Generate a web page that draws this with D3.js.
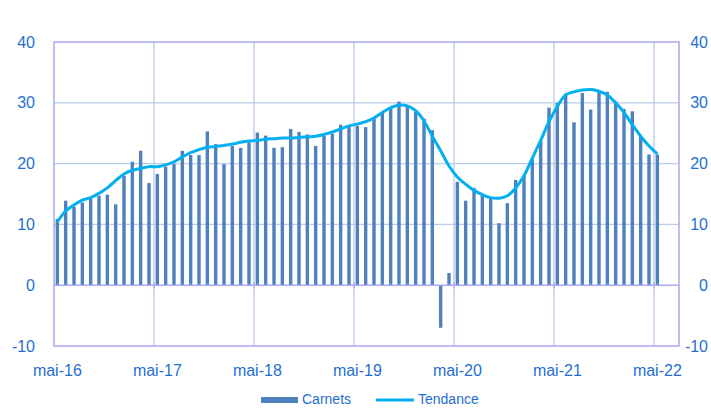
<!DOCTYPE html>
<html>
<head>
<meta charset="utf-8">
<script src="https://cdn.jsdelivr.net/npm/d3@7"></script>
<style>
  body { margin: 0; background: #fff; }
  svg { display: block; font-family: "Liberation Sans", Arial, sans-serif; }
</style>
</head>
<body>
<figure id="chart" style="margin:0"></figure>
<script>
// month names + first month of the axis
const moisNoms = ["jan", "fév", "mar", "avr", "mai", "jun", "jul", "aoû", "sep", "oct", "nov", "déc"];
const debutMois = 4;   // mai
const debutAn = 16;
const nbMois = 75;     // axis runs mai-16 .. jul-22, data stops at mai-22

// Carnets (bars), one value per month from mai-16
const carnets = [
  10.9, 13.9, 12.9, 13.6, 14.2, 14.7, 14.9, 13.3, 18.0, 20.3, 22.1, 16.8,
  18.3, 19.5, 19.9, 22.1, 21.4, 21.4, 25.3, 23.2, 19.9, 22.9, 22.6, 23.5,
  25.1, 24.6, 22.6, 22.7, 25.7, 25.2, 24.8, 22.9, 24.6, 24.9, 26.4, 26.3,
  26.2, 26.0, 27.4, 28.4, 29.3, 30.2, 29.3, 28.5, 27.4, 25.5, -7.0, 2.0,
  17.0, 13.9, 16.0, 15.0, 14.5, 10.2, 13.5, 17.3, 18.0, 20.7, 23.8, 29.2,
  30.0, 31.5, 26.8, 31.6, 28.9, 31.9, 31.8, 30.2, 29.0, 28.6, 24.6, 21.5,
  21.5
];

// Tendance (smoothed line)
const tendance = [
  10.4, 12.2, 13.2, 14.0, 14.4, 15.1, 16.0, 17.2, 18.3, 18.9, 19.2, 19.5,
  19.5, 19.8, 20.3, 21.1, 21.8, 22.3, 22.7, 22.8, 23.0, 23.2, 23.5, 23.7,
  23.8, 24.0, 24.1, 24.2, 24.2, 24.3, 24.4, 24.5, 24.8, 25.2, 25.7, 26.2,
  26.5, 26.9, 27.5, 28.4, 29.2, 29.6, 29.5, 28.7, 27.0, 24.5, 22.1, 19.6,
  17.8, 16.6, 15.6, 14.9, 14.4, 14.3, 14.7, 16.0, 18.0, 20.9, 23.8, 26.9,
  29.4, 31.3, 31.8, 32.1, 32.2, 31.9, 31.3, 30.0, 28.4, 26.4, 24.5, 22.9,
  21.6
];

const yTicks = [-10, 0, 10, 20, 30, 40];

const categories = d3.range(nbMois).map(i => {
  const m = (debutMois + i) % 12;
  const a = debutAn + Math.floor((debutMois + i) / 12);
  return moisNoms[m] + "-" + a;
});

const width = 711, height = 408;
const plot = { left: 54, right: 679, top: 42, bottom: 346 };

const textColor = "#1f6fd0";
const frameColor = "#a9a9f2";
const gridColor = "#b9cbe6";
const barColor = "#4f81bd";
const lineColor = "#00b0f0";

const svg = d3.select("#chart")
  .append("svg")
  .attr("width", width)
  .attr("height", height);

const x = d3.scaleBand()
  .domain(categories)
  .range([plot.left, plot.right])
  .paddingInner(0)
  .paddingOuter(0);

const y = d3.scaleLinear()
  .domain([-10, 40])
  .range([plot.bottom, plot.top]);

const bw = x.bandwidth();
const cx = c => x(c) + bw * 0.4;

// horizontal gridlines
svg.append("g")
  .selectAll("line")
  .data(yTicks.filter(t => t !== 0 && t !== -10 && t !== 40))
  .enter()
  .append("line")
  .attr("x1", plot.left).attr("x2", plot.right)
  .attr("y1", d => y(d)).attr("y2", d => y(d))
  .attr("stroke", gridColor)
  .attr("stroke-width", 1.3);

// vertical gridlines, one per year (between categories)
const yearStarts = categories.filter((c, i) => i % 12 === 0 && i > 0);
svg.append("g")
  .selectAll("line")
  .data(yearStarts)
  .enter()
  .append("line")
  .attr("x1", d => x(d)).attr("x2", d => x(d))
  .attr("y1", plot.top).attr("y2", plot.bottom)
  .attr("stroke", gridColor)
  .attr("stroke-width", 1.3);

// frame
svg.append("rect")
  .attr("x", plot.left).attr("y", plot.top)
  .attr("width", plot.right - plot.left)
  .attr("height", plot.bottom - plot.top)
  .attr("fill", "none")
  .attr("stroke", frameColor)
  .attr("stroke-width", 1.5);

// bars
const barData = carnets.map((v, i) => ({ c: categories[i], v: v }));
svg.append("g")
  .selectAll("rect")
  .data(barData)
  .enter()
  .append("rect")
  .attr("x", d => cx(d.c) - 1.7)
  .attr("width", 3.4)
  .attr("y", d => y(Math.max(0, d.v)))
  .attr("height", d => Math.abs(y(d.v) - y(0)))
  .attr("fill", barColor);

// x axis line at zero, with small year ticks
svg.append("line")
  .attr("x1", plot.left).attr("x2", plot.right)
  .attr("y1", y(0)).attr("y2", y(0))
  .attr("stroke", frameColor)
  .attr("stroke-width", 1.5);

svg.append("g")
  .selectAll("line")
  .data(yearStarts)
  .enter()
  .append("line")
  .attr("x1", d => x(d)).attr("x2", d => x(d))
  .attr("y1", y(0) - 3).attr("y2", y(0) + 3)
  .attr("stroke", frameColor)
  .attr("stroke-width", 1.3);

// trend line
const lineData = tendance.map((v, i) => ({ c: categories[i], v: v }));
svg.append("path")
  .datum(lineData)
  .attr("fill", "none")
  .attr("stroke", lineColor)
  .attr("stroke-width", 3)
  .attr("stroke-linejoin", "round")
  .attr("d", d3.line()
    .x(d => cx(d.c))
    .y(d => y(d.v))
    .curve(d3.curveCatmullRom.alpha(0.5)));

// y labels, left and right
svg.append("g")
  .selectAll("text")
  .data(yTicks)
  .enter()
  .append("text")
  .attr("x", 35)
  .attr("y", d => y(d))
  .attr("dy", "0.35em")
  .attr("text-anchor", "end")
  .attr("fill", textColor)
  .style("font-size", "16px")
  .text(d => d);

svg.append("g")
  .selectAll("text")
  .data(yTicks)
  .enter()
  .append("text")
  .attr("x", 708)
  .attr("y", d => y(d))
  .attr("dy", "0.35em")
  .attr("text-anchor", "end")
  .attr("fill", textColor)
  .style("font-size", "16px")
  .text(d => d);

// x labels every 12 months
svg.append("g")
  .selectAll("text")
  .data(categories.filter((c, i) => i % 12 === 0))
  .enter()
  .append("text")
  .attr("x", d => cx(d))
  .attr("y", 370)
  .attr("dy", "0.35em")
  .attr("text-anchor", "middle")
  .attr("fill", textColor)
  .style("font-size", "16px")
  .text(d => d);

// legend
const legend = svg.append("g");
legend.append("rect")
  .attr("x", 261).attr("y", 397)
  .attr("width", 37).attr("height", 6)
  .attr("fill", barColor);
legend.append("text")
  .attr("x", 302).attr("y", 400)
  .attr("dy", "0.32em")
  .attr("fill", textColor)
  .style("font-size", "14px")
  .text("Carnets");
legend.append("line")
  .attr("x1", 376).attr("x2", 414)
  .attr("y1", 400).attr("y2", 400)
  .attr("stroke", lineColor)
  .attr("stroke-width", 3);
legend.append("text")
  .attr("x", 418).attr("y", 400)
  .attr("dy", "0.32em")
  .attr("fill", textColor)
  .style("font-size", "14px")
  .text("Tendance");
</script>
</body>
</html>
